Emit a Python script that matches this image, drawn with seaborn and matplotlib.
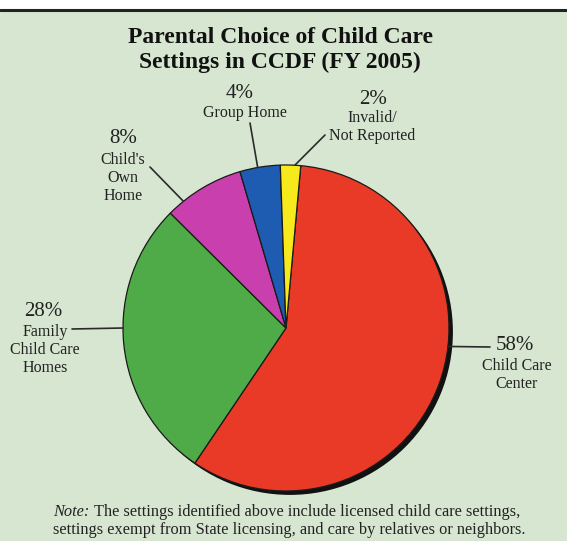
import numpy as np
import matplotlib.pyplot as plt
import seaborn as sns
from matplotlib.patches import Rectangle
from matplotlib.lines import Line2D

sns.set_style("white")
plt.rcParams['font.family'] = ['Liberation Serif', 'DejaVu Serif']

# data (clockwise from the top)
settings = ['Child Care Center', 'Family Child Care Homes', "Child's Own Home",
            'Group Home', 'Invalid/Not Reported']
shares = [58, 28, 8, 4, 2]
colors = ['#e83a27', '#4fab48', '#c93fae', '#1d5cb0', '#f6e91c']

label_text = ['Child Care\nCenter', 'Family\nChild Care\nHomes', "Child's\nOwn\nHome",
              'Group Home', 'Invalid/\nNot Reported']

W, H = 567, 541
BG = '#d7e6d1'
INK = '#222222'
fig = plt.figure(figsize=(W / 100, H / 100), dpi=100, facecolor=BG)


def px(x, y):
    return (x / W, 1 - y / H)


# white strip + rule at the top
fig.patches.append(Rectangle((0, 1 - 9 / H), 1, 9 / H, transform=fig.transFigure,
                             facecolor='white', edgecolor='none', zorder=0))
fig.add_artist(Line2D([0, 1], [1 - 10 / H, 1 - 10 / H], transform=fig.transFigure,
                      color='#222222', lw=2.2))

# pie axes: centre (286, 328) px, radius 163 px
cx, cy, r = 286, 328, 163
ax = fig.add_axes([(cx - r) / W, (H - cy - r) / H, 2 * r / W, 2 * r / H])
ax.set_facecolor('none')

# shadow
ax.pie([sum(shares)], colors=['#111111'], radius=1.0, center=(0.024, -0.024),
       wedgeprops={'linewidth': 0}, frame=False)
wedges, _ = ax.pie(shares, colors=colors, startangle=84.8, counterclock=False,
                   radius=1.0, wedgeprops={'edgecolor': '#1a1a1a', 'linewidth': 0.9})
ax.set_xlim(-1, 1)
ax.set_ylim(-1, 1)
ax.set_aspect('equal')
ax.axis('off')

# label blocks: (percent centre px, text centre px, leader start px, leader angle deg)
layout = [
    ((515, 346), (517, 375), (490, 347), -6.5),
    ((43, 312), (45, 350), (72, 329), 180.0),
    ((123, 139), (123, 178), (150, 167), 129.0),
    ((240, 93), (245, 113), (250, 123), 100.0),
    ((373, 99), (372, 127), (325, 135), 86.9),
]

for share, txt, (pp, tp, lp, ang) in zip(shares, label_text, layout):
    fig.text(*px(*pp), f'{share}%', ha='center', va='center', fontsize=15, color=INK)
    fig.text(*px(*tp), txt, ha='center', va='center', fontsize=11.5, color=INK,
             linespacing=1.2)
    a = np.deg2rad(ang)
    ax.annotate('', xy=(np.cos(a), np.sin(a)), xycoords='data',
                xytext=px(*lp), textcoords='figure fraction',
                arrowprops=dict(arrowstyle='-', color='#2a2a2a', lw=1.2,
                                shrinkA=0, shrinkB=0), annotation_clip=False)

fig.text(*px(280, 50), 'Parental Choice of Child Care\nSettings in CCDF (FY 2005)',
         ha='center', va='center', fontsize=17, fontweight='bold', color='#111111',
         linespacing=1.25)

fig.text(*px(53, 512), 'Note:', ha='left', va='center', fontsize=11.8,
         style='italic', color=INK)
fig.text(*px(94, 512), 'The settings identified above include licensed child care settings,',
         ha='left', va='center', fontsize=11.8, color=INK)
fig.text(*px(289, 530), 'settings exempt from State licensing, and care by relatives or neighbors.',
         ha='center', va='center', fontsize=11.8, color=INK)

fig.savefig('out.png', dpi=100, facecolor=BG)
